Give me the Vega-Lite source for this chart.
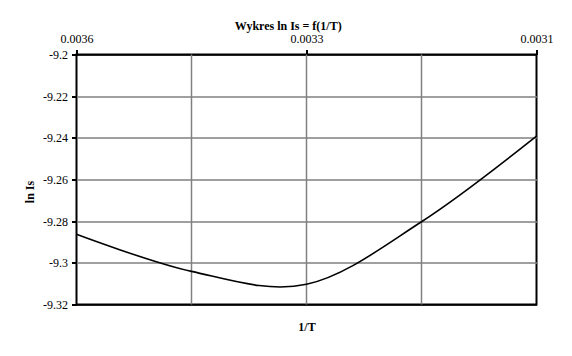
{
  "$schema": "https://vega.github.io/schema/vega-lite/v6.json",
  "width": 460,
  "height": 250,
  "autosize": {"type": "none"},
  "padding": {"left": 76.5, "top": 54.5, "right": 35, "bottom": 51},
  "background": "white",
  "title": {"text": "Wykres ln Is = f(1/T)", "font": "Liberation Serif", "fontSize": 12, "fontWeight": "bold", "color": "black", "offset": 0, "anchor": "middle", "frame": "bounds"},
  "config": {"view": {"stroke": "black", "strokeWidth": 2}},
  "data": {"values": [
    {"x": "0.0036", "lnIs": -9.2863},
    {"x": "0.0034", "lnIs": -9.3041},
    {"x": "0.0033", "lnIs": -9.3103},
    {"x": "0.0032", "lnIs": -9.2803},
    {"x": "0.0031", "lnIs": -9.2392}
  ]},
  "encoding": {
    "x": {
      "field": "x", "type": "ordinal", "sort": null,
      "scale": {"type": "point", "padding": 0, "domain": ["0.0036", "0.0034", "0.0033", "0.0032", "0.0031"]},
      "axis": {
        "orient": "top", "values": ["0.0036", "0.0033", "0.0031"], "labelAngle": 0,
        "labelFont": "Liberation Serif", "labelFontSize": 12, "labelColor": "black", "labelPadding": 4,
        "tickColor": "black", "tickWidth": 2, "tickSize": 5, "domain": false, "grid": false,
        "title": "1/T", "titleFont": "Liberation Serif", "titleFontSize": 12, "titleFontWeight": "bold", "titleColor": "black",
        "titleX": 230, "titleY": 276, "titleBaseline": "alphabetic", "titleAlign": "center"
      }
    }
  },
  "layer": [
    {
      "transform": [{"filter": "datum.x !== '0.0036' && datum.x !== '0.0031'"}],
      "mark": {"type": "rule", "color": "#808080", "strokeWidth": 1.5},
      "encoding": {}
    },
    {
      "mark": {"type": "line", "interpolate": "cardinal", "color": "black", "strokeWidth": 1.6},
      "encoding": {
        "y": {
          "field": "lnIs", "type": "quantitative",
          "scale": {"domain": [-9.32, -9.2], "nice": false, "zero": false},
          "axis": {
            "values": [-9.32, -9.3, -9.28, -9.26, -9.24, -9.22, -9.2], "labelExpr": "toString(datum.value)",
            "labelFont": "Liberation Serif", "labelFontSize": 12, "labelColor": "black", "labelPadding": 4,
            "tickColor": "black", "tickWidth": 2, "tickSize": 5, "domain": false,
            "grid": true, "gridWidth": 1.5,
            "gridColor": {"condition": {"test": "datum.value <= -9.319 || datum.value >= -9.201", "value": "black"}, "value": "#808080"},
            "title": "ln Is", "titleFont": "Liberation Serif", "titleFontSize": 12, "titleFontWeight": "bold", "titleColor": "black",
            "titleX": -47, "titleY": 137, "titleAngle": -90, "titleBaseline": "middle", "titleAlign": "center"
          }
        }
      }
    }
  ]
}
